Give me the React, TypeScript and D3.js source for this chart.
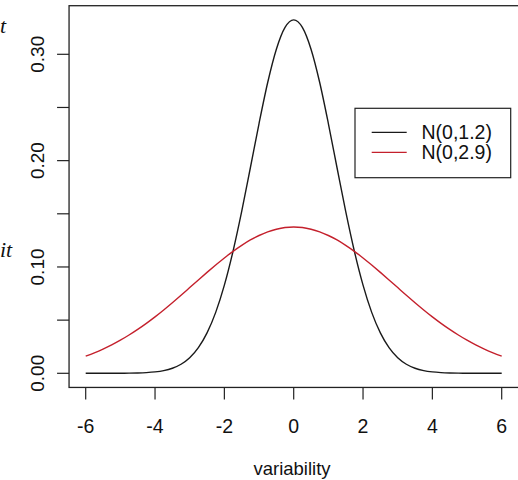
import React from "react";
import * as d3 from "d3";

const xValues = [
  -6, -5.75, -5.5, -5.25, -5, -4.75, -4.5, -4.25, -4, -3.75, -3.5, -3.25, -3, -2.75, -2.5, -2.25, -2, -1.75, -1.5, -1.25, -1, -0.75, -0.5, -0.25,
  0, 0.25, 0.5, 0.75, 1, 1.25, 1.5, 1.75, 2, 2.25, 2.5, 2.75, 3, 3.25, 3.5, 3.75, 4, 4.25, 4.5, 4.75, 5, 5.25, 5.5, 5.75, 6,
];

const narrowValues = [
  0, 0, 0.00001, 0.00002, 0.00006, 0.00013, 0.00029, 0.00063, 0.00129, 0.00252, 0.00473, 0.00849, 0.0146, 0.0241, 0.038, 0.0573, 0.0829, 0.1148, 0.1522, 0.1933, 0.2349, 0.2735, 0.3048, 0.3253,
  0.3324, 0.3253, 0.3048, 0.2735, 0.2349, 0.1933, 0.1522, 0.1148, 0.0829, 0.0573, 0.038, 0.0241, 0.0146, 0.00849, 0.00473, 0.00252, 0.00129, 0.00063, 0.00029, 0.00013, 0.00006, 0.00002, 0.00001, 0, 0,
];

const wideValues = [
  0.0162, 0.0193, 0.0228, 0.0267, 0.0311, 0.036, 0.0413, 0.047, 0.0531, 0.0596, 0.0664, 0.0734, 0.0806, 0.0878, 0.0949, 0.1018, 0.1085, 0.1147, 0.1203, 0.1254, 0.1296, 0.133, 0.1355, 0.1371,
  0.1376, 0.1371, 0.1355, 0.133, 0.1296, 0.1254, 0.1203, 0.1147, 0.1085, 0.1018, 0.0949, 0.0878, 0.0806, 0.0734, 0.0664, 0.0596, 0.0531, 0.047, 0.0413, 0.036, 0.0311, 0.0267, 0.0228, 0.0193, 0.0162,
];

const seriesNames = ["N(0,1.2)", "N(0,2.9)"];
const xTicks = [-6, -4, -2, 0, 2, 4, 6];
const yTicks = [0, 0.05, 0.1, 0.15, 0.2, 0.25, 0.3];
const yLabels = [0, 0.1, 0.2, 0.3];
const xTitle = "variability";

export default function App() {
  const W = 518;
  const H = 480;
  const x = d3.scaleLinear().domain([-6, 6]).range([85.7, 501.7]);
  const y = d3.scaleLinear().domain([0, 0.3]).range([373.3, 54.3]);
  const x0 = x(-6.48);
  const x1 = 522;
  const yTop = y(0.3457);
  const yBot = y(-0.0133);

  const line = d3
    .line<[number, number]>()
    .x((d) => x(d[0]))
    .y((d) => y(d[1]))
    .curve(d3.curveMonotoneX);

  const series = [
    { name: seriesNames[0], values: narrowValues, color: "#1a1a1a" },
    { name: seriesNames[1], values: wideValues, color: "#c4202c" },
  ];

  const font = "'Liberation Sans', Arial, sans-serif";

  return (
    <svg
      width={W}
      height={H}
      style={{ position: "absolute", left: 0, top: 0, background: "#fff" }}
    >
      <rect x={0} y={0} width={W} height={H} fill="#fff" />
      {/* page text fragments at the left edge */}
      <text x={0} y={33} fontFamily="'Liberation Serif', serif" fontStyle="italic" fontSize={22} fill="#111">
        t
      </text>
      <text x={0} y={257} fontFamily="'Liberation Serif', serif" fontStyle="italic" fontSize={22} fill="#111">
        it
      </text>

      {/* plot box */}
      <rect x={x0} y={yTop} width={x1 - x0} height={yBot - yTop} fill="none" stroke="#222" strokeWidth={1.3} />

      {/* curves */}
      {series.map((s) => (
        <path
          key={s.name}
          d={line(xValues.map((v, i) => [v, s.values[i]] as [number, number])) || ""}
          fill="none"
          stroke={s.color}
          strokeWidth={1.4}
        />
      ))}

      {/* x axis */}
      {xTicks.map((t) => (
        <g key={t}>
          <line x1={x(t)} x2={x(t)} y1={yBot} y2={yBot + 12} stroke="#222" strokeWidth={1.2} />
          <text x={x(t)} y={433} textAnchor="middle" fontFamily={font} fontSize={19.5} fill="#111">
            {t}
          </text>
        </g>
      ))}
      <text x={292} y={474.5} textAnchor="middle" fontFamily={font} fontSize={18.5} fill="#111">
        {xTitle}
      </text>

      {/* y axis */}
      {yTicks.map((t) => (
        <line key={t} x1={x0 - 12} x2={x0} y1={y(t)} y2={y(t)} stroke="#222" strokeWidth={1.2} />
      ))}
      {yLabels.map((t) => (
        <text
          key={t}
          transform={`translate(43.5, ${y(t)}) rotate(-90)`}
          textAnchor="middle"
          fontFamily={font}
          fontSize={19}
          fill="#111"
        >
          {t.toFixed(2)}
        </text>
      ))}

      {/* legend */}
      <rect x={355} y={108.3} width={155.7} height={69.4} fill="#fff" stroke="#222" strokeWidth={1.2} />
      {series.map((s, i) => (
        <g key={s.name}>
          <line x1={371.7} x2={406.7} y1={132.3 + i * 20} y2={132.3 + i * 20} stroke={s.color} strokeWidth={1.3} />
          <text x={421.5} y={132.3 + i * 20 + 7} fontFamily={font} fontSize={19.5} fill="#111">
            {s.name}
          </text>
        </g>
      ))}
    </svg>
  );
}
